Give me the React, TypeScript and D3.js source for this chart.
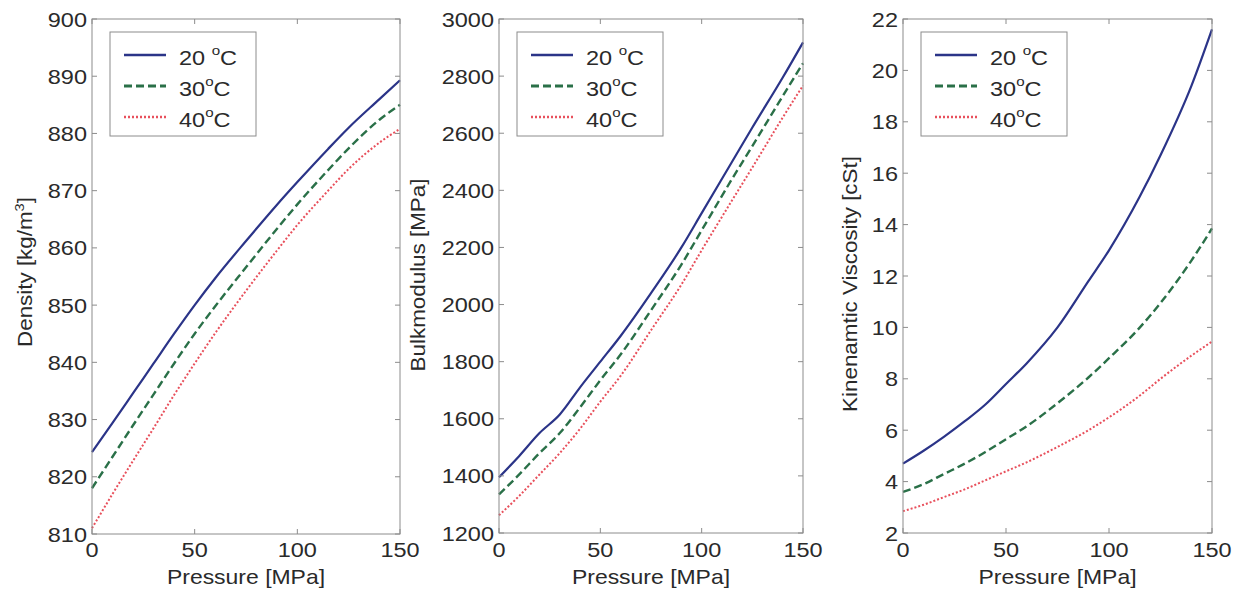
import * as d3 from 'd3'

// pressure samples [MPa]
const pressure = [0, 10, 20, 30, 40, 50, 60, 75, 90, 100, 115, 125, 140, 150]
const seriesNames = ['20', '30', '40']

const density20 = [824.3, 829.4, 834.6, 839.8, 845, 850, 854.7, 861.2, 867.5, 871.5, 877.3, 881.0, 886.0, 889.3]
const density30 = [818, 823.5, 829, 834.4, 839.8, 845, 849.8, 856.6, 863.3, 867.6, 873.6, 877.4, 882.4, 885]
const density40 = [811, 817, 822.8, 828.5, 834.3, 839.8, 845.1, 852.5, 859.5, 864.0, 870.0, 873.8, 878.4, 880.8]

const bulk20 = [1395, 1470, 1550, 1615, 1710, 1800, 1890, 2040, 2200, 2320, 2500, 2620, 2795, 2918]
const bulk30 = [1335, 1405, 1480, 1550, 1640, 1735, 1825, 1980, 2140, 2260, 2440, 2555, 2730, 2845]
const bulk40 = [1262, 1330, 1405, 1480, 1565, 1660, 1750, 1910, 2070, 2190, 2365, 2480, 2655, 2767]

const visc20 = [4.7, 5.2, 5.75, 6.35, 7.0, 7.8, 8.6, 10.0, 11.8, 13.0, 15.1, 16.7, 19.4, 21.6]
const visc30 = [3.6, 3.9, 4.3, 4.7, 5.15, 5.65, 6.15, 7.05, 8.05, 8.8, 10.0, 10.95, 12.6, 13.85]
const visc40 = [2.85, 3.1, 3.4, 3.7, 4.05, 4.4, 4.75, 5.35, 6.0, 6.5, 7.35, 8.0, 8.9, 9.45]

const xTicks = [0, 50, 100, 150]
const densityTicks = [810, 820, 830, 840, 850, 860, 870, 880, 890, 900]
const bulkTicks = [1200, 1400, 1600, 1800, 2000, 2200, 2400, 2600, 2800, 3000]
const viscTicks = [2, 4, 6, 8, 10, 12, 14, 16, 18, 20, 22]

const COLORS = ['#2b3488', '#2a7048', '#e8505c']
const DASH = ['none', '8,4', '2,2']
const WIDTH = [2.2, 2.4, 2]
const FONT = '"Liberation Sans", Arial, Helvetica, sans-serif'
const SX = 1.12
const TXT = '#2a2a2a'
const AXIS = '#8c8c8c'

type PanelDef = {
  left: number; right: number; top: number; bottom: number
  domain: [number, number]; ticks: number[]
  series: number[][]
  title: string; sup?: string; titleX: number; titleY: number
}

const panels: PanelDef[] = [
  { left: 92, right: 400, top: 19, bottom: 534, domain: [810, 900], ticks: densityTicks,
    series: [density20, density30, density40], title: 'Density [kg/m', sup: '3', titleX: 32, titleY: 272 },
  { left: 499, right: 803, top: 19, bottom: 533, domain: [1200, 3000], ticks: bulkTicks,
    series: [bulk20, bulk30, bulk40], title: 'Bulkmodulus [MPa]', titleX: 425, titleY: 275 },
  { left: 903, right: 1212, top: 19, bottom: 533, domain: [2, 22], ticks: viscTicks,
    series: [visc20, visc30, visc40], title: 'Kinenamtic Viscosity [cSt]', titleX: 857, titleY: 284 },
]

function Panel({ p }: { p: PanelDef }) {
  const x = d3.scaleLinear().domain([0, 150]).range([p.left, p.right])
  const y = d3.scaleLinear().domain(p.domain).range([p.bottom, p.top])
  const line = d3.line<[number, number]>()
    .x(d => x(d[0])).y(d => y(d[1]))
    .curve(d3.curveMonotoneX)

  const lx = p.left + 18
  const ly = p.top + 13
  const rows = [25, 56, 87]

  return (
    <g>
      {/* series */}
      {p.series.map((vals, i) => (
        <path key={i}
          d={line(pressure.map((pr, k) => [pr, vals[k]] as [number, number])) ?? ''}
          fill="none" stroke={COLORS[i]} strokeWidth={WIDTH[i]} strokeDasharray={DASH[i]} />
      ))}

      {/* box */}
      <rect x={p.left} y={p.top} width={p.right - p.left} height={p.bottom - p.top}
        fill="none" stroke={AXIS} strokeWidth={1} />

      {/* y ticks */}
      {p.ticks.map(t => (
        <g key={t}>
          <line x1={p.left} x2={p.left + 5} y1={y(t)} y2={y(t)} stroke={AXIS} />
          <line x1={p.right} x2={p.right - 5} y1={y(t)} y2={y(t)} stroke={AXIS} />
          <text transform={`translate(${p.left - 5},${y(t) + 7.5}) scale(${SX},1)`}
            textAnchor="end" style={{ fontSize: 21, fill: TXT, fontFamily: FONT }}>{t}</text>
        </g>
      ))}

      {/* x ticks */}
      {xTicks.map(t => (
        <g key={t}>
          <line x1={x(t)} x2={x(t)} y1={p.bottom} y2={p.bottom - 5} stroke={AXIS} />
          <line x1={x(t)} x2={x(t)} y1={p.top} y2={p.top + 5} stroke={AXIS} />
          <text transform={`translate(${x(t)},${557}) scale(${SX},1)`}
            textAnchor="middle" style={{ fontSize: 21, fill: TXT, fontFamily: FONT }}>{t}</text>
        </g>
      ))}

      {/* x title */}
      <text transform={`translate(${(p.left + p.right) / 2},${584}) scale(${SX},1)`}
        textAnchor="middle" style={{ fontSize: 20.5, fill: TXT, fontFamily: FONT }}>Pressure [MPa]</text>

      {/* y title */}
      <text transform={`translate(${p.titleX},${p.titleY}) rotate(-90) scale(${SX},1)`}
        textAnchor="middle" style={{ fontSize: 20, fill: TXT, fontFamily: FONT }}>
        {p.title}
        {p.sup && <tspan dy={-8} style={{ fontSize: 13 }}>{p.sup}</tspan>}
        {p.sup && <tspan dy={8}>]</tspan>}
      </text>

      {/* legend */}
      <rect x={lx} y={ly} width={146} height={104} fill="#fff" stroke={AXIS} strokeWidth={1} />
      {seriesNames.map((s, i) => (
        <g key={s}>
          <line x1={lx + 14} x2={lx + 56} y1={ly + rows[i] - 2} y2={ly + rows[i] - 2}
            stroke={COLORS[i]} strokeWidth={WIDTH[i] + 0.4} strokeDasharray={DASH[i]} />
          <text transform={`translate(${lx + 69},${ly + rows[i] + 7.5}) scale(${SX},1)`}
            style={{ fontSize: 21, fill: TXT, fontFamily: FONT }}>
            {i === 0 ? `${s} ` : s}
            <tspan dy={-10} style={{ fontSize: 13.5 }}>o</tspan>
            <tspan dy={10}>C</tspan>
          </text>
        </g>
      ))}
    </g>
  )
}

export default function App() {
  return (
    <div style={{ position: 'fixed', left: 0, top: 0, background: '#fff' }}>
      <svg width={1240} height={592} style={{ display: 'block', background: '#fff' }}>
        {panels.map((p, i) => <Panel key={i} p={p} />)}
      </svg>
    </div>
  )
}
